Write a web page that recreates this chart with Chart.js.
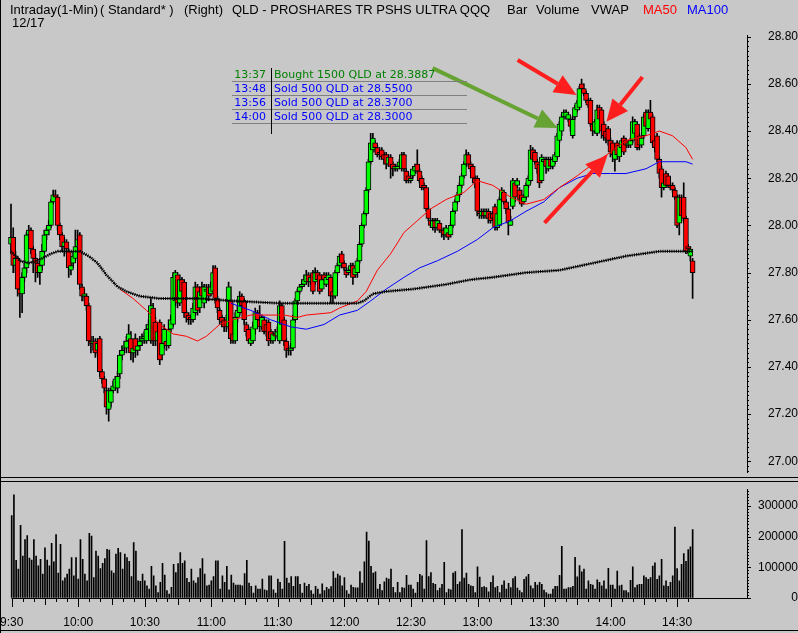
<!DOCTYPE html>
<html>
<head>
<meta charset="utf-8">
<script src="https://cdn.jsdelivr.net/npm/chart.js@4.4.1/dist/chart.umd.min.js"></script>
<style>
    body { margin: 0; background: #c8c8c8; }
    #wrap { position: relative; width: 798px; height: 633px; background: #c8c8c8; overflow: hidden;
            font-family: "Liberation Sans", Arial, sans-serif; }
    #priceCanvas { position: absolute; left: 0; top: 0; }
    #volumeCanvas { position: absolute; left: 0; top: 482px; }
    .hdr { position: absolute; font-size: 13px; line-height: 15px; white-space: nowrap; color: #000; }
    .trade { position: absolute; font-family: "DejaVu Sans", sans-serif; font-size: 11px; line-height: 14px; white-space: nowrap; }
    .rule { position: absolute; background: #000; }
</style>
</head>
<body>
<div id="wrap">
    <canvas id="priceCanvas" width="798" height="480"></canvas>
    <canvas id="volumeCanvas" width="798" height="151"></canvas>
    <div id="header"></div>
    <div id="trades"></div>
    <div class="rule" style="left:0;top:0;width:1px;height:633px;"></div>
    <div class="rule" style="left:0;top:477px;width:798px;height:1px;"></div>
    <div class="rule" style="left:0;top:481px;width:798px;height:1px;"></div>
    <div class="rule" style="left:0;top:630px;width:798px;height:1px;"></div>
</div>
<script>
// 1-minute bars, index = minutes after 9:30
const opens = [
    27.92,27.95,27.83,27.86,27.73,27.71,27.78,27.82,27.96,27.98,
    27.90,27.86,27.84,27.80,27.83,27.89,27.96,27.98,28.00,28.10,
    28.13,28.12,28.00,27.96,27.91,27.93,27.89,27.81,27.84,27.86,
    27.91,27.96,27.74,27.70,27.70,27.66,27.51,27.50,27.51,27.47,
    27.52,27.38,27.35,27.30,27.22,27.25,27.30,27.31,27.31,27.37,
    27.45,27.48,27.48,27.51,27.52,27.46,27.52,27.47,27.49,27.51,
    27.52,27.51,27.56,27.51,27.65,27.59,27.51,27.59,27.45,27.50,
    27.51,27.49,27.56,27.58,27.68,27.79,27.67,27.77,27.76,27.63,
    27.62,27.61,27.60,27.63,27.74,27.65,27.74,27.67,27.72,27.74,
    27.71,27.72,27.82,27.69,27.64,27.61,27.60,27.60,27.57,27.68,
    27.54,27.51,27.61,27.63,27.70,27.68,27.58,27.56,27.50,27.51,
    27.56,27.63,27.60,27.57,27.60,27.58,27.59,27.55,27.51,27.54,
    27.53,27.51,27.66,27.60,27.51,27.48,27.47,27.48,27.60,27.68,
    27.72,27.74,27.75,27.76,27.79,27.76,27.80,27.76,27.80,27.79,
    27.73,27.79,27.75,27.77,27.78,27.72,27.70,27.80,27.83,27.88,
    27.84,27.81,27.80,27.81,27.83,27.79,27.80,27.85,27.92,28.00,
    28.05,28.15,28.27,28.32,28.35,28.33,28.31,28.32,28.30,28.30,
    28.26,28.29,28.26,28.24,28.24,28.25,28.24,28.30,28.23,28.21,
    28.19,28.21,28.23,28.26,28.23,28.20,28.17,28.16,28.07,28.02,
    27.99,28.02,27.99,28.01,27.98,27.98,27.96,27.97,27.96,28.00,
    28.06,28.10,28.13,28.17,28.21,28.26,28.30,28.26,28.25,28.20,
    28.20,28.06,28.04,28.06,28.04,28.06,28.05,28.05,28.08,27.99,
    28.00,28.11,28.14,28.10,28.07,28.00,28.08,28.18,28.17,28.15,
    28.13,28.10,28.12,28.17,28.19,28.32,28.31,28.27,28.26,28.19,
    28.27,28.28,28.24,28.28,28.25,28.27,28.29,28.36,28.40,28.46,
    28.46,28.45,28.45,28.38,28.46,28.49,28.50,28.60,28.58,28.56,
    28.53,28.53,28.43,28.40,28.39,28.50,28.49,28.43,28.40,28.41,
    28.36,28.35,28.28,28.35,28.29,28.33,28.37,28.36,28.34,28.34,
    28.36,28.39,28.43,28.38,28.34,28.38,28.48,28.41,28.48,28.46,
    28.36,28.38,28.28,28.24,28.16,28.22,28.21,28.17,28.17,28.15,
    28.12,28.01,28.12,28.12,28.03,27.91,27.87,27.85
];
const highs = [
    28.09,27.99,27.89,27.87,27.75,27.80,27.84,27.97,28.00,27.99,
    27.91,27.88,27.85,27.85,27.92,27.98,27.99,28.02,28.11,28.15,
    28.15,28.13,28.01,27.97,27.95,27.94,27.90,27.85,27.89,27.98,
    27.98,27.97,27.75,27.73,27.71,27.67,27.53,27.53,27.52,27.52,
    27.53,27.39,27.36,27.31,27.31,27.31,27.34,27.36,27.38,27.47,
    27.49,27.51,27.53,27.58,27.55,27.51,27.54,27.52,27.53,27.54,
    27.55,27.58,27.60,27.69,27.67,27.61,27.57,27.60,27.52,27.58,
    27.53,27.60,27.62,27.80,27.81,27.80,27.79,27.78,27.77,27.64,
    27.63,27.62,27.67,27.76,27.75,27.74,27.76,27.75,27.75,27.75,
    27.76,27.83,27.83,27.70,27.65,27.62,27.61,27.62,27.76,27.74,
    27.56,27.63,27.66,27.72,27.71,27.69,27.59,27.57,27.53,27.59,
    27.65,27.64,27.66,27.62,27.61,27.60,27.60,27.56,27.55,27.56,
    27.57,27.68,27.67,27.61,27.52,27.49,27.50,27.62,27.69,27.73,
    27.75,27.77,27.79,27.81,27.80,27.79,27.81,27.82,27.81,27.80,
    27.79,27.80,27.80,27.80,27.79,27.74,27.81,27.84,27.88,27.89,
    27.85,27.82,27.82,27.84,27.84,27.83,27.86,27.93,28.01,28.06,
    28.16,28.28,28.39,28.39,28.36,28.34,28.33,28.33,28.31,28.31,
    28.30,28.30,28.27,28.26,28.26,28.28,28.31,28.31,28.24,28.22,
    28.21,28.25,28.26,28.32,28.24,28.21,28.18,28.17,28.08,28.03,
    28.03,28.03,28.03,28.02,27.99,27.99,28.00,27.98,28.01,28.07,
    28.11,28.14,28.18,28.22,28.27,28.32,28.31,28.27,28.26,28.21,
    28.21,28.07,28.07,28.07,28.07,28.07,28.06,28.06,28.09,28.06,
    28.12,28.16,28.15,28.11,28.08,28.04,28.20,28.19,28.20,28.16,
    28.15,28.13,28.18,28.21,28.34,28.33,28.32,28.28,28.27,28.30,
    28.29,28.29,28.29,28.29,28.29,28.31,28.39,28.44,28.47,28.49,
    28.49,28.48,28.46,28.46,28.51,28.53,28.59,28.62,28.60,28.57,
    28.54,28.54,28.44,28.45,28.51,28.51,28.50,28.44,28.41,28.42,
    28.37,28.36,28.33,28.36,28.35,28.37,28.38,28.37,28.36,28.37,
    28.46,28.45,28.44,28.39,28.38,28.47,28.49,28.49,28.53,28.47,
    28.37,28.39,28.29,28.25,28.19,28.23,28.22,28.18,28.18,28.16,
    28.13,28.13,28.13,28.18,28.04,27.92,27.91,27.86
];
const lows = [
    27.88,27.80,27.80,27.70,27.61,27.63,27.76,27.80,27.94,27.88,
    27.80,27.76,27.78,27.75,27.81,27.88,27.94,27.96,27.99,28.09,
    28.10,27.98,27.94,27.89,27.87,27.88,27.78,27.79,27.82,27.85,
    27.89,27.73,27.68,27.68,27.64,27.49,27.46,27.47,27.44,27.45,
    27.36,27.33,27.29,27.20,27.17,27.23,27.29,27.30,27.29,27.35,
    27.43,27.46,27.46,27.49,27.43,27.42,27.44,27.45,27.47,27.49,
    27.50,27.50,27.54,27.50,27.49,27.49,27.49,27.41,27.43,27.48,
    27.47,27.48,27.55,27.57,27.66,27.65,27.66,27.70,27.61,27.59,
    27.58,27.58,27.59,27.62,27.62,27.63,27.68,27.65,27.70,27.68,
    27.70,27.71,27.67,27.63,27.58,27.57,27.55,27.55,27.56,27.50,
    27.50,27.50,27.59,27.62,27.63,27.58,27.53,27.50,27.49,27.50,
    27.54,27.58,27.55,27.56,27.54,27.53,27.49,27.50,27.50,27.51,
    27.52,27.50,27.56,27.49,27.44,27.45,27.45,27.47,27.59,27.67,
    27.71,27.73,27.74,27.75,27.74,27.75,27.71,27.75,27.76,27.71,
    27.72,27.75,27.74,27.76,27.67,27.67,27.69,27.79,27.82,27.82,
    27.81,27.78,27.79,27.80,27.75,27.78,27.78,27.84,27.91,27.99,
    28.04,28.14,28.26,28.31,28.31,28.29,28.28,28.28,28.26,28.24,
    28.25,28.20,28.21,28.23,28.23,28.24,28.23,28.23,28.18,28.18,
    28.18,28.20,28.22,28.22,28.18,28.15,28.15,28.06,28.02,27.99,
    27.98,27.97,27.98,27.97,27.95,27.94,27.95,27.94,27.95,27.99,
    28.05,28.09,28.12,28.16,28.20,28.25,28.25,28.23,28.18,28.16,
    28.04,28.03,28.03,28.03,28.03,28.01,28.01,28.02,27.98,27.98,
    28.00,28.10,28.09,28.05,27.96,28.00,28.07,28.10,28.16,28.10,
    28.08,28.09,28.11,28.16,28.18,28.27,28.26,28.22,28.16,28.18,
    28.25,28.22,28.23,28.24,28.24,28.26,28.28,28.35,28.38,28.45,
    28.45,28.44,28.40,28.37,28.45,28.48,28.49,28.57,28.55,28.52,
    28.50,28.42,28.38,28.39,28.38,28.44,28.37,28.36,28.35,28.34,
    28.29,28.27,28.23,28.28,28.27,28.32,28.30,28.33,28.33,28.33,
    28.35,28.38,28.32,28.32,28.33,28.37,28.41,28.40,28.44,28.34,
    28.31,28.27,28.20,28.12,28.15,28.16,28.16,28.15,28.14,28.11,
    27.99,27.96,28.02,28.01,27.88,27.88,27.85,27.69
];
const closes = [
    27.95,27.83,27.86,27.73,27.71,27.78,27.82,27.96,27.98,27.90,
    27.86,27.84,27.80,27.83,27.89,27.96,27.98,28.00,28.10,28.13,
    28.12,28.00,27.96,27.91,27.93,27.90,27.82,27.83,27.87,27.91,
    27.94,27.75,27.70,27.71,27.66,27.51,27.50,27.51,27.46,27.50,
    27.38,27.35,27.31,27.23,27.30,27.30,27.32,27.35,27.36,27.45,
    27.47,27.49,27.51,27.54,27.46,27.48,27.47,27.49,27.51,27.52,
    27.53,27.56,27.58,27.66,27.51,27.51,27.55,27.43,27.50,27.56,
    27.49,27.56,27.60,27.78,27.80,27.67,27.77,27.72,27.63,27.61,
    27.60,27.60,27.65,27.74,27.64,27.72,27.70,27.74,27.73,27.70,
    27.74,27.80,27.69,27.65,27.60,27.59,27.57,27.57,27.74,27.52,
    27.51,27.61,27.64,27.70,27.66,27.60,27.55,27.51,27.52,27.57,
    27.63,27.60,27.57,27.61,27.55,27.55,27.51,27.52,27.54,27.53,
    27.55,27.66,27.58,27.51,27.47,27.47,27.48,27.60,27.68,27.72,
    27.74,27.75,27.77,27.79,27.76,27.78,27.72,27.80,27.77,27.72,
    27.77,27.77,27.78,27.79,27.70,27.70,27.80,27.83,27.87,27.84,
    27.82,27.79,27.81,27.83,27.78,27.82,27.85,27.92,28.00,28.05,
    28.15,28.27,28.35,28.37,28.33,28.30,28.30,28.29,28.28,28.26,
    28.29,28.25,28.24,28.25,28.25,28.27,28.30,28.24,28.19,28.19,
    28.20,28.24,28.25,28.23,28.19,28.16,28.16,28.07,28.03,28.00,
    28.02,27.99,28.02,27.98,27.97,27.96,27.99,27.95,28.00,28.06,
    28.10,28.13,28.17,28.21,28.26,28.30,28.26,28.24,28.20,28.18,
    28.06,28.05,28.06,28.04,28.06,28.03,28.02,28.03,27.99,28.05,
    28.11,28.15,28.10,28.07,28.01,28.02,28.19,28.12,28.19,28.11,
    28.09,28.12,28.17,28.20,28.32,28.28,28.27,28.24,28.18,28.29,
    28.28,28.25,28.28,28.25,28.28,28.30,28.38,28.43,28.46,28.48,
    28.48,28.47,28.42,28.45,28.50,28.52,28.58,28.58,28.56,28.53,
    28.51,28.43,28.40,28.44,28.49,28.45,28.40,28.38,28.37,28.36,
    28.31,28.30,28.32,28.30,28.34,28.36,28.31,28.34,28.35,28.36,
    28.44,28.44,28.33,28.34,28.37,28.46,28.42,28.48,28.45,28.35,
    28.33,28.28,28.22,28.16,28.18,28.17,28.17,28.16,28.15,28.12,
    28.00,28.12,28.04,28.03,27.89,27.90,27.90,27.80
];
const volumes = [
    269000,337000,123000,94000,237000,137000,191000,204000,130000,124000,
    191000,137000,105000,126000,78000,164000,124000,105000,178000,118000,
    207000,81000,175000,56000,66000,78000,94000,132000,72000,132000,
    62000,191000,126000,78000,56000,211000,202000,67000,153000,137000,
    96000,113000,129000,159000,156000,89000,81000,143000,162000,148000,
    94000,143000,132000,120000,70000,181000,153000,56000,54000,78000,
    56000,40000,29000,103000,72000,40000,18000,51000,113000,75000,
    24000,13000,35000,110000,83000,112000,148000,113000,121000,64000,
    51000,94000,56000,49000,67000,96000,129000,78000,40000,42000,
    56000,70000,121000,121000,29000,72000,51000,103000,27000,75000,
    49000,42000,42000,42000,40000,80000,123000,49000,38000,16000,
    40000,29000,29000,62000,27000,24000,72000,72000,27000,16000,
    62000,51000,29000,185000,65000,49000,70000,38000,70000,70000,
    45000,16000,49000,38000,45000,24000,13000,38000,29000,13000,
    46000,24000,35000,29000,37000,86000,65000,78000,72000,40000,
    67000,24000,13000,42000,35000,33000,33000,86000,49000,118000,
    215000,186000,103000,81000,85000,29000,45000,24000,53000,65000,
    62000,94000,35000,18000,51000,18000,34000,32000,74000,42000,
    42000,29000,16000,51000,77000,72000,29000,187000,70000,83000,
    48000,45000,24000,32000,45000,116000,18000,29000,27000,81000,
    86000,45000,53000,223000,65000,81000,45000,40000,38000,18000,
    102000,68000,35000,37000,34000,20000,51000,72000,34000,38000,
    18000,42000,56000,29000,48000,34000,63000,70000,32000,24000,
    18000,61000,69000,77000,40000,31000,51000,42000,51000,45000,
    26000,18000,13000,13000,29000,38000,38000,74000,169000,29000,
    29000,34000,34000,38000,133000,69000,106000,85000,94000,29000,
    56000,45000,42000,29000,59000,51000,40000,56000,29000,97000,
    42000,42000,29000,88000,40000,42000,24000,24000,18000,58000,
    102000,34000,42000,45000,45000,72000,67000,61000,67000,104000,
    115000,61000,72000,126000,40000,56000,38000,51000,72000,231000,
    96000,56000,110000,145000,120000,158000,167000,223000
];

// Indicator lines: [minute, price]
const vwapLine = [
    [0,27.89],[4,27.85],[8,27.84],[14,27.86],[18,27.88],[21,27.89],[25,27.89],[31,27.89],
    [35,27.87],[39,27.84],[43,27.79],[48,27.74],[52,27.72],[58,27.70],[67,27.69],[85,27.69],
    [100,27.68],[121,27.67],[136,27.67],[156,27.67],[159,27.68],[163,27.71],[169,27.72],
    [181,27.73],[196,27.75],[207,27.77],[217,27.78],[232,27.80],[247,27.81],[262,27.84],
    [277,27.87],[292,27.89],[304,27.89],[307,27.89]
];
const ma50Line = [
    [49,27.73],[55,27.69],[61,27.64],[67,27.58],[73,27.54],[79,27.53],[84,27.51],[88,27.53],
    [94,27.58],[100,27.60],[108,27.62],[117,27.62],[123,27.62],[129,27.61],[133,27.62],
    [144,27.63],[148,27.65],[156,27.68],[160,27.72],[165,27.81],[171,27.88],[177,27.97],
    [183,28.02],[189,28.07],[196,28.11],[204,28.14],[210,28.19],[217,28.17],[225,28.12],
    [232,28.09],[240,28.11],[247,28.16],[255,28.21],[262,28.26],[270,28.31],[277,28.36],
    [286,28.38],[292,28.40],[298,28.38],[304,28.33],[307,28.28]
];
const ma100Line = [
    [99,27.67],[108,27.64],[117,27.60],[126,27.57],[133,27.56],[141,27.58],[148,27.62],
    [156,27.64],[162,27.68],[169,27.73],[177,27.78],[184,27.82],[192,27.85],[201,27.89],
    [210,27.94],[217,27.99],[225,28.02],[232,28.06],[240,28.10],[247,28.16],[255,28.20],
    [262,28.22],[270,28.22],[277,28.22],[286,28.24],[292,28.27],[300,28.27],[304,28.27],[307,28.26]
];

const priceTicks = ['28.80','28.60','28.40','28.20','28.00','27.80','27.60','27.40','27.20','27.00'];
const volumeTicks = [0, 100000, 200000, 300000];

const trades = [
    { time: '13:37', text: 'Bought 1500 QLD at 28.3887', color: '#008000' },
    { time: '13:48', text: 'Sold 500 QLD at 28.5500', color: '#0000ff' },
    { time: '13:56', text: 'Sold 500 QLD at 28.3700', color: '#0000ff' },
    { time: '14:00', text: 'Sold 500 QLD at 28.3000', color: '#0000ff' }
];
// arrows in chart units: minute and price of tail and tip
const tradeArrows = [
    { from: [189.9, 28.667], to: [246.2, 28.413], color: '#66a332' },
    { from: [228.2, 28.701], to: [254.7, 28.553], color: '#ff1e1e' },
    { from: [284.4, 28.629], to: [268.2, 28.439], color: '#ff1e1e' },
    { from: [240.3, 28.011], to: [268.7, 28.299], color: '#ff1e1e' }
];

const X_MIN = -4.054;
const X_MAX = 331.5;

function timeLabel(t) {
    const m = 570 + t;
    return Math.floor(m / 60) + ':' + String(m % 60).padStart(2, '0');
}

function drawArrow(ctx, x0, y0, x1, y1, color) {
    const ang = Math.atan2(y1 - y0, x1 - x0);
    const headLen = 22, headHalf = 10;
    const bx = x1 - headLen * Math.cos(ang);
    const by = y1 - headLen * Math.sin(ang);
    ctx.save();
    ctx.strokeStyle = color;
    ctx.fillStyle = color;
    ctx.lineWidth = 4;
    ctx.beginPath();
    ctx.moveTo(x0, y0);
    ctx.lineTo(bx, by);
    ctx.stroke();
    ctx.beginPath();
    ctx.moveTo(x1, y1);
    ctx.lineTo(bx + headHalf * Math.sin(ang), by - headHalf * Math.cos(ang));
    ctx.lineTo(bx - headHalf * Math.sin(ang), by + headHalf * Math.cos(ang));
    ctx.closePath();
    ctx.fill();
    ctx.restore();
}

const arrowPlugin = {
    id: 'tradeArrows',
    afterDatasetsDraw(chart) {
        const { ctx, scales: { x, y } } = chart;
        tradeArrows.forEach(a => {
            drawArrow(ctx, x.getPixelForValue(a.from[0]), y.getPixelForValue(a.from[1]),
                x.getPixelForValue(a.to[0]), y.getPixelForValue(a.to[1]), a.color);
        });
    }
};

// short ticks on the right value axis, a bit longer where there is a label
const valueTickPlugin = {
    id: 'valueTicks',
    afterDraw(chart) {
        const { ctx, chartArea, scales: { y } } = chart;
        ctx.save();
        ctx.strokeStyle = '#000';
        ctx.lineWidth = 1;
        ctx.beginPath();
        y.ticks.forEach(tk => {
            const py = Math.round(y.getPixelForValue(tk.value)) + 0.5;
            ctx.moveTo(chartArea.right, py);
            ctx.lineTo(chartArea.right + (tk.label ? 4 : 2), py);
        });
        ctx.stroke();
        ctx.restore();
    }
};

// time axis tick marks: every 5 min, longer on the quarter and half hour
const timeTickPlugin = {
    id: 'timeTicks',
    afterDraw(chart) {
        const { ctx, chartArea, scales: { x } } = chart;
        const y0 = chartArea.bottom;
        ctx.save();
        ctx.strokeStyle = '#000';
        ctx.lineWidth = 1;
        ctx.beginPath();
        ctx.moveTo(Math.round(x.getPixelForValue(0)) - 0.5, y0 + 0.5);
        ctx.lineTo(chartArea.right, y0 + 0.5);
        x.ticks.forEach(tk => {
            const t = tk.value;
            const px = Math.round(x.getPixelForValue(t)) + 0.5;
            const len = t % 30 === 0 ? 9 : (t % 15 === 0 ? 7 : 4);
            ctx.moveTo(px, y0);
            ctx.lineTo(px, y0 + len);
        });
        ctx.stroke();
        ctx.restore();
    }
};

function fixedTicks(values) {
    return function(scale) { scale.ticks = values.map(v => ({ value: v })); };
}

document.addEventListener('DOMContentLoaded', function() {
    const minutes = closes.map((c, i) => i);
    const bodies = minutes.map(i => ({ x: i, y: [opens[i], closes[i]] }));
    const wicks = minutes.map(i => ({ x: i, y: [lows[i], highs[i]] }));
    const bodyColors = minutes.map(i => closes[i] >= opens[i] ? '#00ff00' : '#ff0000');
    const toPoints = arr => arr.map(p => ({ x: p[0], y: p[1] }));

    // tick positions: every 2 cents on price, every 10k on volume, every 5 min on time
    const priceTickValues = [];
    for (let k = 1348; k <= 1440; k++) priceTickValues.push(k / 50);
    const volumeTickValues = [];
    for (let k = 0; k <= 35; k++) volumeTickValues.push(k * 10000);
    const timeTickValues = [];
    for (let t = 0; t < closes.length; t += 5) timeTickValues.push(t);

    const axisFont = { family: '"Liberation Sans", Arial, sans-serif', size: 12 };
    const hiddenTicks = 'rgba(0,0,0,0)';

    new Chart(document.getElementById('priceCanvas'), {
        type: 'bar',
        data: {
            datasets: [
                { type: 'line', data: toPoints(vwapLine), borderColor: '#000', borderWidth: 1, pointRadius: 0, order: 0 },
                { type: 'line', data: toPoints(vwapLine), borderColor: '#000', borderWidth: 3, borderDash: [1, 1.22], pointRadius: 0, order: 0 },
                { type: 'line', data: toPoints(ma50Line), borderColor: '#ff0000', borderWidth: 1, pointRadius: 0, order: 0 },
                { type: 'line', data: toPoints(ma100Line), borderColor: '#0000ff', borderWidth: 1, pointRadius: 0, order: 0 },
                { data: bodies, backgroundColor: bodyColors, borderColor: '#000', borderWidth: 1,
                  borderSkipped: false, barThickness: 5, grouped: false, minBarLength: 1, order: 1 },
                { data: wicks, backgroundColor: '#000', borderWidth: 0, barThickness: 1, grouped: false, order: 2 }
            ]
        },
        options: {
            responsive: false,
            animation: false,
            events: [],
            layout: { autoPadding: false, padding: { left: 2, top: 35, bottom: 5, right: 0 } },
            plugins: { legend: { display: false }, tooltip: { enabled: false } },
            scales: {
                x: { type: 'linear', min: X_MIN, max: X_MAX, offset: false, display: false },
                y: {
                    position: 'right', min: 26.9513, max: 28.8072, beginAtZero: false,
                    afterBuildTicks: fixedTicks(priceTickValues),
                    afterFit(scale) { scale.width = 51; },
                    border: { display: true, color: '#000', width: 1 },
                    grid: { drawOnChartArea: false, drawTicks: true, tickLength: 19, tickColor: hiddenTicks },
                    ticks: {
                        autoSkip: false, padding: 0, crossAlign: 'far',
                        color: '#000', font: axisFont,
                        callback(v) {
                            const s = v.toFixed(2);
                            return priceTicks.includes(s) ? s : '';
                        }
                    }
                }
            }
        },
        plugins: [arrowPlugin, valueTickPlugin]
    });

    new Chart(document.getElementById('volumeCanvas'), {
        type: 'bar',
        data: {
            datasets: [{
                data: minutes.map(i => ({ x: i, y: volumes[i] })),
                backgroundColor: '#000', borderWidth: 0, barThickness: 1, grouped: false
            }]
        },
        options: {
            responsive: false,
            animation: false,
            events: [],
            layout: { autoPadding: false, padding: { left: 2, top: 5, bottom: 0, right: 0 } },
            plugins: { legend: { display: false }, tooltip: { enabled: false } },
            scales: {
                x: {
                    type: 'linear', min: X_MIN, max: X_MAX, offset: false,
                    afterBuildTicks: fixedTicks(timeTickValues),
                    afterFit(scale) { scale.height = 35; },
                    border: { display: false },
                    grid: { display: true, drawOnChartArea: false, drawTicks: true, tickLength: 17, tickColor: hiddenTicks },
                    ticks: {
                        autoSkip: false, maxRotation: 0, padding: 0,
                        color: '#000', font: axisFont,
                        callback(v) { return v % 30 === 0 ? timeLabel(v) : ''; }
                    }
                },
                y: {
                    position: 'right', min: 0, max: 355000,
                    afterBuildTicks: fixedTicks(volumeTickValues),
                    afterFit(scale) { scale.width = 51; },
                    border: { display: true, color: '#000', width: 1 },
                    grid: { drawOnChartArea: false, drawTicks: true, tickLength: 10, tickColor: hiddenTicks },
                    ticks: {
                        autoSkip: false, padding: 0, crossAlign: 'far',
                        color: '#000', font: axisFont,
                        callback(v) { return volumeTicks.includes(v) ? String(v) : ''; }
                    }
                }
            }
        },
        plugins: [timeTickPlugin, valueTickPlugin]
    });

    // header line
    const header = document.getElementById('header');
    const headerItems = [
        [10, 2, 'Intraday(1-Min)', '#000'], [100, 2, '( Standard* )', '#000'], [184, 2, '(Right)', '#000'],
        [232, 2, 'QLD - PROSHARES TR PSHS ULTRA QQQ', '#000'], [507, 2, 'Bar', '#000'],
        [536, 2, 'Volume', '#000'], [591, 2, 'VWAP', '#000'], [643, 2, 'MA50', '#ff0000'],
        [687, 2, 'MA100', '#0000ff'], [12, 15, '12/17', '#000']
    ];
    headerItems.forEach(([left, top, text, color]) => {
        const span = document.createElement('div');
        span.className = 'hdr';
        span.style.left = left + 'px';
        span.style.top = top + 'px';
        span.style.color = color;
        span.textContent = text;
        header.appendChild(span);
    });

    // trade log table
    const tradeBox = document.getElementById('trades');
    trades.forEach((tr, i) => {
        const top = 68 + i * 14;
        const time = document.createElement('div');
        time.className = 'trade';
        time.style.cssText = `left:224px;width:42px;text-align:right;top:${top}px;color:${tr.color};`;
        time.textContent = tr.time;
        const txt = document.createElement('div');
        txt.className = 'trade';
        txt.style.cssText = `left:274px;top:${top}px;color:${tr.color};`;
        txt.textContent = tr.text;
        const line = document.createElement('div');
        line.style.cssText = `position:absolute;left:232px;width:235px;height:1px;top:${top + 13}px;background:#808080;`;
        tradeBox.appendChild(time);
        tradeBox.appendChild(txt);
        tradeBox.appendChild(line);
    });
    const vline = document.createElement('div');
    vline.style.cssText = 'position:absolute;left:271px;top:68px;width:1px;height:66px;background:#000;';
    tradeBox.appendChild(vline);
});
</script>
</body>
</html>
